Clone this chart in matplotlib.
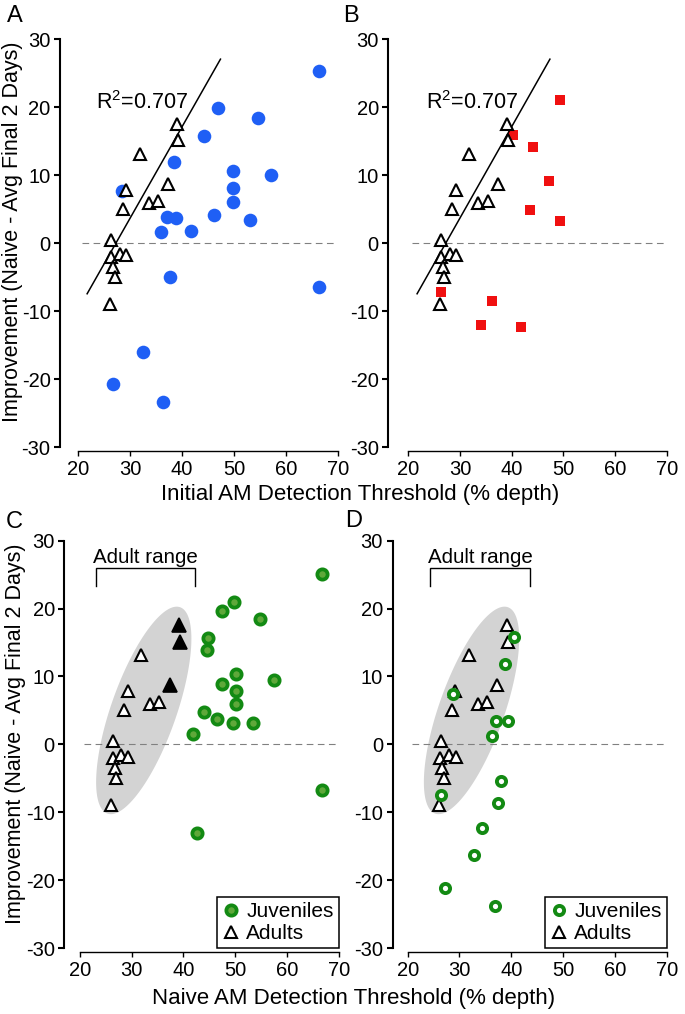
import numpy as np
import matplotlib
matplotlib.use('Agg')
import matplotlib.pyplot as plt
from matplotlib.patches import Polygon
from matplotlib.lines import Line2D

plt.rcParams['font.family'] = ['Liberation Sans', 'DejaVu Sans']
plt.rcParams['axes.unicode_minus'] = False
plt.rcParams['mathtext.fontset'] = 'custom'
plt.rcParams['mathtext.rm'] = 'Liberation Sans'
plt.rcParams['mathtext.it'] = 'Liberation Sans:italic'
plt.rcParams['mathtext.bf'] = 'Liberation Sans:bold'

# ---------------- data ----------------
adults_x = [39.1, 39.3, 31.8, 37.3, 29.2, 28.55, 33.55, 35.35, 26.35, 26.3, 28.0, 29.25, 26.7, 27.0, 26.05]
adults_y = [17.6, 15.15, 13.2, 8.75, 7.8, 5.0, 6.0, 6.2, 0.45, -1.95, -1.6, -1.8, -3.5, -5.0, -8.9]
adults_highlight_C = [0, 1, 3]   # adults drawn as filled triangles in panel C

juv_A_x = [66.4, 47.0, 54.6, 44.2, 38.4, 49.8, 57.1, 49.8, 28.4, 49.8, 37.0, 38.8, 46.1, 53.1,
           36.0, 41.7, 37.6, 66.4, 32.5, 26.7, 36.3]
juv_A_y = [25.4, 19.9, 18.5, 15.8, 12.0, 10.7, 10.0, 8.2, 7.7, 6.1, 3.8, 3.65, 4.15, 3.4,
           1.65, 1.84, -5.0, -6.4, -16.0, -20.7, -23.4]

juv_B_x = [49.3, 40.2, 44.2, 47.2, 43.5, 49.3, 26.3, 36.2, 34.1, 41.9]
juv_B_y = [21.1, 15.9, 14.1, 9.1, 4.9, 3.3, -7.2, -8.5, -12.0, -12.4]

juv_C_x = [66.8, 49.7, 47.4, 54.8, 44.7, 44.5, 50.1, 57.5, 47.5, 50.2, 50.1, 43.9, 46.5, 49.6,
           53.5, 41.9, 66.8, 42.6]
juv_C_y = [25.1, 20.9, 19.6, 18.4, 15.7, 13.9, 10.35, 9.5, 8.9, 7.8, 5.9, 4.7, 3.8, 3.1,
           3.1, 1.5, -6.7, -13.0]

juv_D_x = [40.6, 38.8, 28.8, 37.1, 39.3, 36.3, 38.0, 26.5, 37.4, 34.4, 32.8, 27.3, 36.9]
juv_D_y = [15.8, 11.8, 7.4, 3.5, 3.5, 1.3, -5.4, -7.5, -8.7, -12.3, -16.3, -21.2, -23.8]

# adult regression line
fit_slope = 1.344
fit_intercept = -36.6
fit_x_range = (21.7, 47.4)
r2_text = 'R$^{2}$=0.707'

x_ticks = [20, 30, 40, 50, 60, 70]
y_ticks = [-30, -20, -10, 0, 10, 20, 30]

# adult range brackets (x extent) and ellipse (end points of major axis)
bracket_C = (23.1, 42.2)
bracket_D = (24.4, 43.6)
ellipse_top = (39.35, 20.2)
ellipse_bottom = (25.3, -10.2)
ellipse_minor_pt = 23.5

# ---------------- figure ----------------
W, H = 685, 1014
fig = plt.figure(figsize=(W / 100, H / 100), dpi=100)


def add_axes(left, right, top, bottom):
    return fig.add_axes([left / W, 1 - bottom / H, (right - left) / W, (bottom - top) / H])


FS = 14.5
LFS = 16
BLUE = '#1f5ff5'
RED = '#f01010'
GREEN_EDGE = '#138a13'
GREEN_FACE = '#5fa83a'


def style(ax, xmin):
    ax.set_xlim(xmin, 71)
    ax.set_ylim(-30.6, 30.5)
    for s in ['top', 'right']:
        ax.spines[s].set_visible(False)
    ax.spines['left'].set_bounds(-30, 30)
    ax.spines['bottom'].set_bounds(20, 70)
    ax.spines['left'].set_linewidth(1.5)
    ax.spines['bottom'].set_linewidth(1.0)
    ax.set_xticks(x_ticks)
    ax.set_yticks(y_ticks)
    ax.tick_params(axis='y', direction='out', length=4.3, width=1.5, labelsize=FS, pad=2.5)
    ax.tick_params(axis='x', direction='out', length=3.6, width=1.0, labelsize=FS, pad=3)
    ax.patch.set_visible(False)
    ax.plot([20.8, 69.8], [0, 0], ls=(0, (6, 4)), color='#808080', lw=0.8, zorder=1)


def adults(ax, highlight=None, z=5):
    hl = set(highlight or [])
    ox = [x for i, x in enumerate(adults_x) if i not in hl]
    oy = [y for i, y in enumerate(adults_y) if i not in hl]
    ax.plot(ox, oy, ls='none', marker='^', ms=8.8, mfc='white', mec='black', mew=1.5, zorder=z)
    if hl:
        fx = [adults_x[i] for i in highlight]
        fy = [adults_y[i] for i in highlight]
        ax.plot(fx, fy, ls='none', marker='^', ms=9.8, mfc='black', mec='black', mew=1.2, zorder=z)


def fit_line(ax):
    xs = np.array(fit_x_range)
    ax.plot(xs, fit_slope * xs + fit_intercept, color='black', lw=1.1, zorder=4)
    ax.text(23.5, 19.75, r2_text, fontsize=15.5, ha='left', va='baseline')


def ellipse(ax):
    t = np.linspace(0, 2 * np.pi, 200)
    p1 = ax.transData.transform(ellipse_top)
    p2 = ax.transData.transform(ellipse_bottom)
    c = (p1 + p2) / 2
    d = p1 - p2
    a = np.hypot(*d) / 2
    u = d / np.hypot(*d)
    v = np.array([-u[1], u[0]])
    b = ellipse_minor_pt * fig.dpi / 72
    pts = c + np.outer(a * np.cos(t), u) + np.outer(b * np.sin(t), v)
    data_pts = ax.transData.inverted().transform(pts)
    ax.add_patch(Polygon(data_pts, closed=True, facecolor='#d3d3d3', edgecolor='none', zorder=0))


def bracket(ax, xr):
    ax.plot([xr[0], xr[0], xr[1], xr[1]], [23.4, 26.0, 26.0, 23.4], color='black', lw=1.0,
            solid_joinstyle='miter', zorder=3)
    ax.text((xr[0] + xr[1]) / 2, 26.7, 'Adult range', fontsize=14.8, ha='center', va='baseline')


def legend(ax, juv_handle):
    tri = Line2D([], [], ls='none', marker='^', ms=8.8, mfc='white', mec='black', mew=1.5)
    leg = ax.legend([juv_handle, tri], ['Juveniles', 'Adults'], loc='lower right',
                    bbox_to_anchor=(70, -30), bbox_transform=ax.transData, borderaxespad=0,
                    fontsize=15, frameon=True, fancybox=False, framealpha=1,
                    handlelength=0.8, handletextpad=0.35, borderpad=0.25, labelspacing=0.12)
    leg.get_frame().set_edgecolor('black')
    leg.get_frame().set_linewidth(1.1)


# Panel A
axA = add_axes(60, 342.9, 36.1, 451.1)
style(axA, 16.47)
axA.plot(juv_A_x, juv_A_y, ls='none', marker='o', ms=9.8, mfc=BLUE, mec=BLUE, mew=0, zorder=3)
adults(axA)
fit_line(axA)

# Panel B
axB = add_axes(388.3, 671.9, 36.1, 451.1)
style(axB, 16.13)
axB.plot(juv_B_x, juv_B_y, ls='none', marker='s', ms=7.4, mfc=RED, mec=RED, mew=0, zorder=3)
adults(axB)
fit_line(axB)

# Panel C
axC = add_axes(64.3, 343.9, 537.3, 952.1)
style(axC, 16.97)
ellipse(axC)
bracket(axC, bracket_C)
adults(axC, adults_highlight_C)
axC.plot(juv_C_x, juv_C_y, ls='none', marker='o', ms=7.4, mfc=GREEN_FACE, mec=GREEN_EDGE,
         mew=2.7, zorder=6)
legend(axC, Line2D([], [], ls='none', marker='o', ms=7.4, mfc=GREEN_FACE, mec=GREEN_EDGE, mew=2.7))

# Panel D
axD = add_axes(392.5, 671.9, 537.3, 952.1)
style(axD, 17.07)
ellipse(axD)
bracket(axD, bracket_D)
adults(axD)
axD.plot(juv_D_x, juv_D_y, ls='none', marker='o', ms=6.6, mfc='white', mec=GREEN_EDGE,
         mew=2.8, zorder=6)
legend(axD, Line2D([], [], ls='none', marker='o', ms=6.6, mfc='white', mec=GREEN_EDGE, mew=2.8))

# labels
ylab = 'Improvement (Naive - Avg Final 2 Days)'
fig.text(12.5 / W, 1 - 232 / H, ylab, rotation=90, ha='center', va='center', fontsize=15.5)
fig.text(15.5 / W, 1 - 734 / H, ylab, rotation=90, ha='center', va='center', fontsize=15.5)
fig.text(360 / W, 1 - 500 / H, 'Initial AM Detection Threshold (% depth)', ha='center',
         va='baseline', fontsize=LFS)
fig.text(354 / W, 1 - 1004 / H, 'Naive AM Detection Threshold (% depth)', ha='center',
         va='baseline', fontsize=LFS)

for lab, x, y in [('A', 15, 16), ('B', 351, 16), ('C', 14, 522), ('D', 354, 521)]:
    fig.text(x / W, 1 - y / H, lab, ha='center', va='center', fontsize=17)

fig.savefig('out.png', dpi=100)
